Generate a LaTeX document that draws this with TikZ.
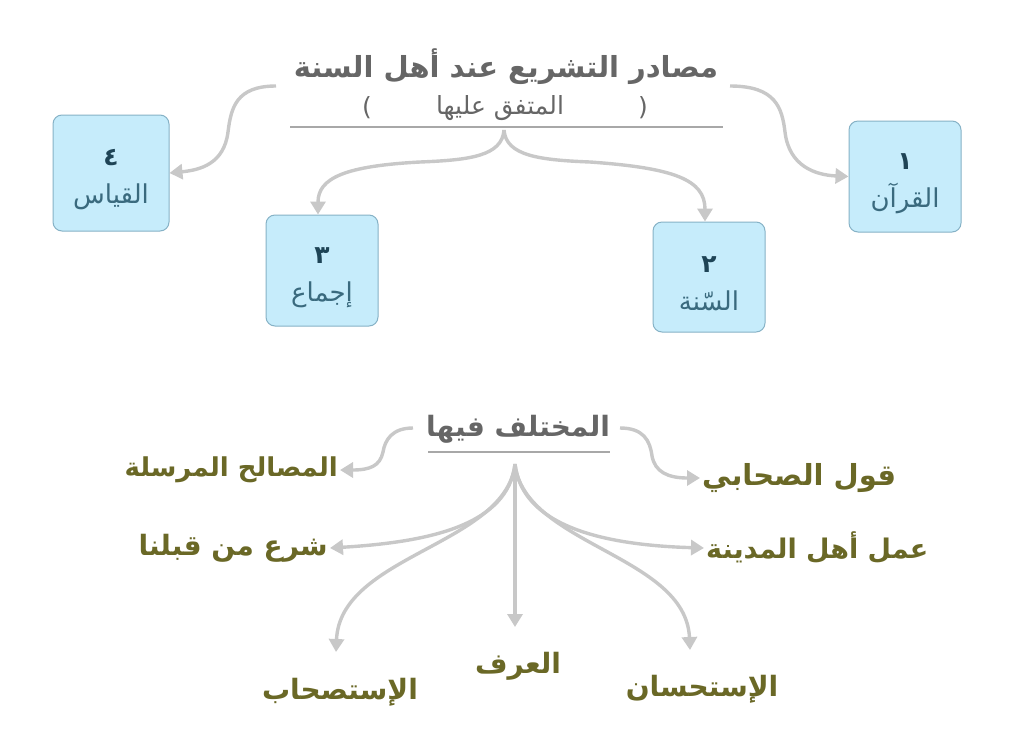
\documentclass[tikz,border=0pt]{standalone}
\usepackage{fontspec}
\usetikzlibrary{arrows.meta}
\TeXXeTstate=1
\newfontfamily\arabicfont[Script=Arabic]{DejaVu Sans}
\newfontfamily\arabicbold[Script=Arabic]{DejaVu Sans Bold}
\definecolor{arrowgray}{HTML}{C8C8C8}
\definecolor{titlegray}{HTML}{666666}
\definecolor{linegray}{HTML}{A8A8A8}
\definecolor{boxfill}{HTML}{C6ECFB}
\definecolor{boxedge}{HTML}{86B2C6}
\definecolor{boxtext}{HTML}{3A6A7E}
\definecolor{boxnum}{HTML}{1E4456}
\definecolor{olive}{HTML}{6A6826}
\tikzset{
  conn/.style={draw=arrowgray, line width=3.4pt, -{Triangle[width=15pt,length=13pt]}},
  srcbox/.style={draw=boxedge, line width=1pt, fill=boxfill, rounded corners=9pt,
    text=boxtext, align=center, inner sep=0pt, font=\arabicfont\fontsize{26}{38}\selectfont},
  olivelabel/.style={text=olive, font=\arabicbold\fontsize{27}{30}\selectfont, inner sep=2pt},
  headtext/.style={text=titlegray, font=\arabicbold\fontsize{29}{32}\selectfont, inner sep=2pt},
  subtext/.style={text=titlegray, font=\arabicfont\fontsize{25}{28}\selectfont, inner sep=2pt},
  rule/.style={draw=linegray, line width=1.2pt}
}
\newcommand{\boxnumber}[1]{{\color{boxnum}\arabicbold\fontsize{25}{38}\selectfont\rule{0pt}{30pt}\beginR #1\endR}}
\begin{document}
\begin{tikzpicture}[x=1pt,y=-1pt]
\useasboundingbox (0,0) rectangle (1024,753);
\fill[white] (0,0) rectangle (1024,753);

% ---------- top part ----------
\node[headtext] (title) at (506,67) {\beginR مصادر التشريع عند أهل السنة\endR};
\node[subtext] (sub) at (500,108) {\beginR المتفق عليها\endR};
\node[subtext] (pr) at (643,108) {(};
\node[subtext] (pl) at (367,108) {)};
\coordinate (ul1) at (290,127);
\coordinate (ul2) at (723,127);
\draw[rule] (ul1) -- (ul2);

\node[srcbox, minimum width=116pt, minimum height=116pt] (b4) at (111,173) {\boxnumber{٤}\\\beginR القياس\endR};
\node[srcbox, minimum width=112pt, minimum height=111pt] (b1) at (905,176.5) {\boxnumber{١}\\\beginR القرآن\endR};
\node[srcbox, minimum width=112pt, minimum height=111pt] (b3) at (322,270.5) {\boxnumber{٣}\\\beginR إجماع\endR};
\node[srcbox, minimum width=112pt, minimum height=110pt] (b2) at (709,277) {\boxnumber{٢}\\\beginR السّنة\endR};

\coordinate (tl) at (276,86);
\coordinate (tr) at (730,86);
\coordinate (split) at (504,130);

\draw[conn] (tl) .. controls (236,86) and (231,108) .. (228,132)
  .. controls (224,164) and (200,170) .. (b4.east);
\draw[conn] (tr) .. controls (776,86) and (782,108) .. (785,132)
  .. controls (789,166) and (815,175) .. (b1.west);
\draw[conn] (split) .. controls (502,156) and (470,160) .. (420,162)
  .. controls (345,166) and (318,178) .. ([xshift=-4pt]b3.north);
\draw[conn] (split) .. controls (506,156) and (540,160) .. (590,162)
  .. controls (675,168) and (705,180) .. ([xshift=-4pt]b2.north);

% ---------- bottom part ----------
\node[headtext, font=\arabicbold\fontsize{28}{31}\selectfont] (head2) at (518,429) {\beginR المختلف فيها\endR};
\coordinate (ul3) at (428,452);
\coordinate (ul4) at (610,452);
\draw[rule] (ul3) -- (ul4);

\node[olivelabel, anchor=east, font=\arabicbold\fontsize{26}{30}\selectfont] (l1) at (340,470) {\beginR المصالح المرسلة\endR};
\node[olivelabel, anchor=west, font=\arabicbold\fontsize{29}{30}\selectfont] (r1) at (700,478) {\beginR قول الصحابي\endR};
\node[olivelabel, anchor=east, font=\arabicbold\fontsize{28}{30}\selectfont] (l2) at (330,548) {\beginR شرع من قبلنا\endR};
\node[olivelabel, anchor=west] (r2) at (704,548) {\beginR عمل أهل المدينة\endR};
\node[olivelabel, font=\arabicbold\fontsize{28}{30}\selectfont] (d1) at (340,692) {\beginR الإستصحاب\endR};
\node[olivelabel, font=\arabicbold\fontsize{28}{30}\selectfont] (d2) at (518,666) {\beginR العرف\endR};
\node[olivelabel, font=\arabicbold\fontsize{28}{30}\selectfont] (d3) at (702,689) {\beginR الإستحسان\endR};

\coordinate (hl) at (413,428);
\coordinate (hr) at (620,428);
\coordinate (fan) at (515,464);

\draw[conn] (hl) .. controls (392,428) and (385,440) .. (383,452)
  .. controls (380,466) and (370,470) .. (l1.east);
\draw[conn] (hr) .. controls (643,428) and (650,440) .. (652,456)
  .. controls (655,472) and (668,478) .. (r1.west);
\draw[conn] (fan) .. controls (508,525) and (430,542) .. (l2.east);
\draw[conn] (fan) .. controls (522,525) and (600,545) .. (r2.west);
\draw[conn] (fan) .. controls (506,545) and (340,555) .. (336,652);
\draw[conn] (fan) -- (515,627);
\draw[conn] (fan) .. controls (524,545) and (686,555) .. (690,650);
\end{tikzpicture}
\end{document}
